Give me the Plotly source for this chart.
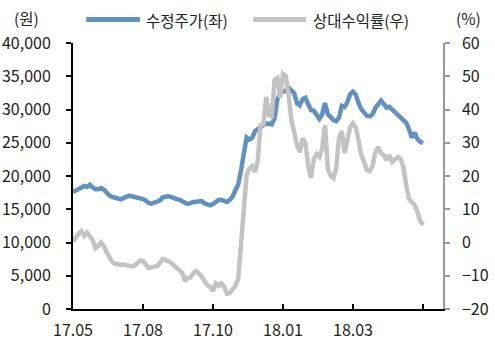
import plotly.graph_objects as go

# Trading-day index (every 2nd session) and axis tick labels
day_index = list(range(0, 251, 2))
tick_positions = [0, 50, 100, 150, 200, 250]
tick_labels = ["17.05", "17.08", "17.10", "18.01", "18.03", ""]

# Adjusted share price (KRW), left axis
price = [
    17600, 17850, 18100, 18400, 18500, 18350, 18700, 18300, 18000, 18000,
    18200, 17950, 17440, 17070, 16870, 16710, 16570, 16500, 16680, 16920,
    17040, 16950, 16840, 16780, 16780, 16540, 16300, 15940, 15850, 15990,
    16140, 16300, 16780, 16900, 16960, 16870, 16600, 16520, 16440, 16150,
    15970, 15800, 15990, 16090, 16120, 16120, 16240, 15870, 15640, 15580,
    15790, 16150, 16390, 16420, 16300, 16090, 16420, 16900, 17850, 18710,
    20830, 23460, 25800, 25490, 25720, 26740, 27040, 27430, 27670, 27820,
    27880, 27760, 28720, 31550, 32360, 32740, 32810, 33280, 32860, 32450,
    30930, 30620, 31560, 31750, 30770, 29930, 29820, 29100, 28600, 29280,
    30980, 29320, 28720, 28410, 28260, 28770, 30530, 30380, 31130, 32330,
    32680, 32200, 30950, 30020, 29560, 29020, 28950, 29290, 30230, 30920,
    31340, 30830, 30270, 30410, 30030, 29620, 29290, 28930, 28480, 27990,
    27070, 25790, 26510, 25580, 25170, 24920,
]

# Relative return (%), right axis
rel_return = [
    0.3, 1.7, 2.7, 3.4, 2.0, 3.0, 2.0, 0.8, -1.7, -1.1,
    0.0, -1.1, -2.9, -4.7, -5.8, -6.4, -6.7, -6.7, -6.6, -6.8,
    -7.0, -7.2, -6.9, -6.0, -5.4, -5.6, -6.6, -7.7, -7.4, -7.25,
    -7.1, -6.2, -5.0, -5.2, -5.6, -6.1, -6.9, -7.6, -8.1, -9.1,
    -11.6, -10.6, -10.5, -9.2, -8.6, -9.5, -10.2, -11.6, -12.9, -13.4,
    -14.6, -12.3, -13.0, -12.3, -13.3, -15.4, -15.2, -14.1, -13.1, -11.0,
    -0.5, 8.9, 20.3, 22.2, 23.0, 21.2, 24.8, 35.3, 35.6, 43.8,
    38.3, 38.0, 48.9, 49.5, 43.5, 50.7, 50.1, 44.1, 36.8, 33.2,
    29.3, 27.2, 31.4, 29.9, 23.0, 19.4, 25.1, 26.6, 25.7, 28.4,
    35.3, 22.4, 20.0, 19.4, 22.4, 31.4, 33.5, 26.9, 30.2, 34.7,
    35.9, 34.7, 30.8, 26.3, 24.2, 21.8, 21.5, 23.0, 27.2, 28.7,
    26.9, 26.3, 24.8, 26.3, 24.2, 24.8, 25.7, 25.1, 22.7, 17.3,
    13.1, 12.2, 11.3, 9.2, 6.5, 5.3,
]

BLUE = "#6191C0"
GRAY = "#C3C3C3"
FONT = "Noto Sans CJK KR"

fig = go.Figure()
fig.add_trace(go.Scatter(
    x=day_index, y=price, name="수정주가(좌)", mode="lines",
    line=dict(color=BLUE, width=4.5), yaxis="y",
))
fig.add_trace(go.Scatter(
    x=day_index, y=rel_return, name="상대수익률(우)", mode="lines",
    line=dict(color=GRAY, width=4.5), yaxis="y2",
))

fig.update_layout(
    width=495, height=341,
    margin=dict(l=73, r=52, t=43, b=32),
    paper_bgcolor="white", plot_bgcolor="white",
    showlegend=False,
    font=dict(family=FONT, size=16, color="#222222"),
    xaxis=dict(
        range=[0, 264.3], tickmode="array",
        tickvals=tick_positions, ticktext=tick_labels,
        ticks="inside", ticklen=5, tickwidth=2, tickcolor="black",
        ticklabelstandoff=6, automargin=False,
        showline=True, linecolor="black", linewidth=2,
        showgrid=False, zeroline=False,
    ),
    yaxis=dict(
        range=[0, 40000], dtick=5000, tickformat=",",
        ticks="outside", ticklen=5, tickwidth=1.5, tickcolor="black",
        ticklabelstandoff=12, automargin=False,
        showline=True, linecolor="black", linewidth=2,
        showgrid=False, zeroline=False,
    ),
    yaxis2=dict(
        range=[-20, 60], dtick=10, overlaying="y", side="right",
        ticks="outside", ticklen=5, tickwidth=1.5, tickcolor="#999999",
        ticklabelstandoff=9, automargin=False,
        showline=True, linecolor="#999999", linewidth=1.5,
        showgrid=False, zeroline=False,
    ),
)

# Legend drawn as line swatches with labels above the plot
legend_items = [
    (BLUE, "수정주가(좌)", 0.0355, 0.181),
    (GRAY, "상대수익률(우)", 0.487, 0.630),
]
for color, label, x0, x1 in legend_items:
    fig.add_shape(type="line", xref="paper", yref="paper",
                  x0=x0, x1=x1, y0=1.088, y1=1.088,
                  line=dict(color=color, width=5))
    fig.add_annotation(xref="paper", yref="paper", x=x1 + 0.012, y=1.088,
                       text=label, showarrow=False, xanchor="left",
                       yanchor="middle", font=dict(size=15.5))

# Axis unit captions
fig.add_annotation(xref="paper", yref="paper", x=-0.125, y=1.095,
                   text="(원)", showarrow=False, xanchor="center",
                   yanchor="middle", font=dict(size=15.5))
fig.add_annotation(xref="paper", yref="paper", x=1.07, y=1.095,
                   text="(%)", showarrow=False, xanchor="center",
                   yanchor="middle", font=dict(size=15.5))

fig.write_html("out.html")
